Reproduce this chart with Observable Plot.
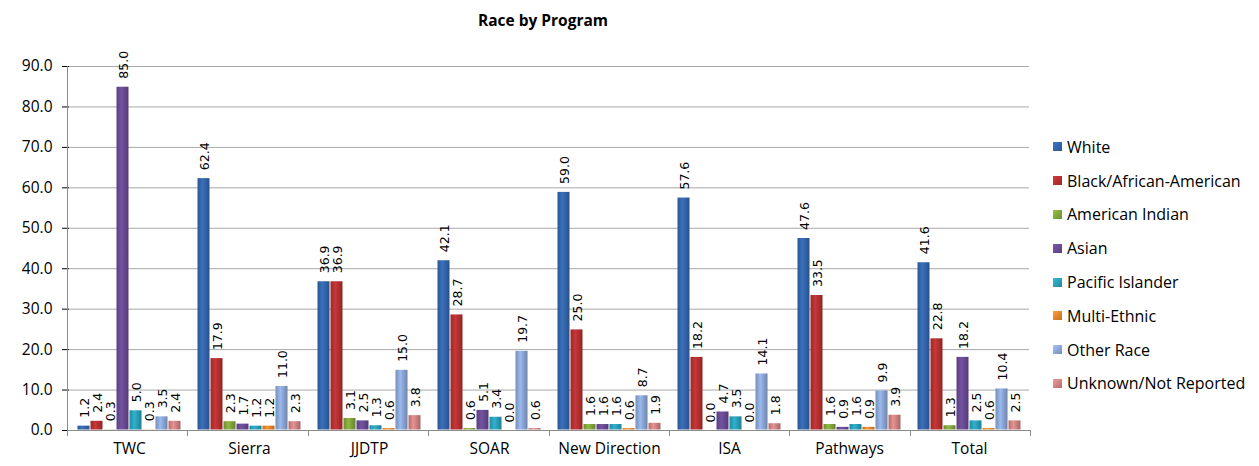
<!DOCTYPE html>
<html>
<head>
<meta charset="utf-8">
<script src="https://cdn.jsdelivr.net/npm/d3@7"></script>
<script src="https://cdn.jsdelivr.net/npm/@observablehq/plot@0.6"></script>
<style>
  html, body { margin: 0; padding: 0; background: #fff; }
  #wrap { position: relative; width: 1259px; height: 466px; font-family: "Open Sans", sans-serif; }
  #title { position: absolute; left: 0; top: 9px; width: 1086px; text-align: center; font-weight: bold; font-size: 15.5px; color: #000; }
  #chart { position: absolute; left: 0; top: 40px; }
  #legend { position: absolute; left: 1053px; top: 130px; font-size: 16px; color: #000; }
  .li { display: flex; align-items: center; height: 33.8px; white-space: nowrap; }
  .sw { width: 9px; height: 9px; margin-right: 5px; }
</style>
</head>
<body>
<div id="wrap">
  <div id="title">Race by Program</div>
  <div id="chart"></div>
  <div id="legend"></div>
</div>
<script>
const programs = ["TWC", "Sierra", "JJDTP", "SOAR", "New Direction", "ISA", "Pathways", "Total"];
const races = ["White", "Black/African-American", "American Indian", "Asian", "Pacific Islander", "Multi-Ethnic", "Other Race", "Unknown/Not Reported"];
const colors = ["#3467ad", "#b93131", "#83a83c", "#6b4c96", "#2ba3bd", "#e8882c", "#8eaadb", "#d48585"];

const white    = [1.2, 62.4, 36.9, 42.1, 59.0, 57.6, 47.6, 41.6];
const black    = [2.4, 17.9, 36.9, 28.7, 25.0, 18.2, 33.5, 22.8];
const amIndian = [0.3, 2.3, 3.1, 0.6, 1.6, 0.0, 1.6, 1.3];
const asian    = [85.0, 1.7, 2.5, 5.1, 1.6, 4.7, 0.9, 18.2];
const pacific  = [5.0, 1.2, 1.3, 3.4, 1.6, 3.5, 1.6, 2.5];
const multi    = [0.3, 1.2, 0.6, 0.0, 0.6, 0.0, 0.9, 0.6];
const other    = [3.5, 11.0, 15.0, 19.7, 8.7, 14.1, 9.9, 10.4];
const unknown  = [2.4, 2.3, 3.8, 0.6, 1.9, 1.8, 3.9, 2.5];
const yTicks = [0, 10, 20, 30, 40, 50, 60, 70, 80, 90];

const series = [white, black, amIndian, asian, pacific, multi, other, unknown];
const data = [];
programs.forEach((p, i) => races.forEach((r, j) => data.push({program: p, race: r, value: series[j][i]})));

const plot = Plot.plot({
  width: 1259,
  height: 426,
  marginTop: 26,
  marginBottom: 36,
  marginLeft: 67,
  marginRight: 229,
  style: {fontFamily: "'Open Sans', sans-serif", fontSize: "15.5px", color: "#000", background: "#fff"},
  fx: {domain: programs, padding: 0, label: null, axis: "bottom", tickSize: 0, tickPadding: 12},
  x: {domain: races, axis: null, paddingInner: 0, paddingOuter: 0.55},
  y: {domain: [0, 90], ticks: yTicks, tickFormat: d3.format(".1f"), label: null, tickSize: 7, tickPadding: 10},
  color: {domain: races, range: colors},
  marks: [
    Plot.ruleY(yTicks, {stroke: "#a8a8a8", strokeWidth: 1}),
    Plot.barY(data, {fx: "program", x: "race", y: "value", fill: "race", inset: 0.5}),
    Plot.text(data, {fx: "program", x: "race", y: "value", text: d => d.value.toFixed(1), rotate: -90, textAnchor: "start", dy: -8, dx: 1, fontSize: 12.5, fontFamily: "DejaVu Sans", fill: "#000"})
  ]
});

// gradients for a 3D-ish bar look
const svg = d3.select(plot.tagName === "svg" ? plot : plot.querySelector("svg"));
const defs = svg.insert("defs", ":first-child");
const idOf = {};
colors.forEach((c, i) => {
  const g = defs.append("linearGradient").attr("id", "g" + i).attr("x1", 0).attr("x2", 1).attr("y1", 0).attr("y2", 0);
  g.append("stop").attr("offset", "0%").attr("stop-color", d3.color(c).darker(0.5).formatHex());
  g.append("stop").attr("offset", "40%").attr("stop-color", d3.color(c).brighter(0.25).formatHex());
  g.append("stop").attr("offset", "100%").attr("stop-color", d3.color(c).darker(0.7).formatHex());
  idOf[d3.color(c).formatHex()] = "url(#g" + i + ")";
});
svg.selectAll("rect").each(function() {
  const f = this.getAttribute("fill");
  if (f) { const k = d3.color(f); if (k && idOf[k.formatHex()]) this.setAttribute("fill", idOf[k.formatHex()]); }
});

// axis lines and category separators derived from the scales
const fx = plot.scale("fx"), y = plot.scale("y");
const fxs = d3.scaleBand().domain(fx.domain).range(fx.range).padding(0);
const y0 = y.apply(0), yTop = y.apply(90);
const left = fx.range[0], right = fx.range[1];
const ax = svg.append("g").attr("stroke", "#8c8c8c").attr("stroke-width", 1);
ax.append("line").attr("x1", left + 0.5).attr("x2", left + 0.5).attr("y1", yTop).attr("y2", y0 + 6);
ax.append("line").attr("x1", left).attr("x2", right).attr("y1", y0 + 0.5).attr("y2", y0 + 0.5);
programs.forEach((p, i) => {
  const xe = Math.round(fxs(p) + fxs.bandwidth()) + 0.5;
  ax.append("line").attr("x1", xe).attr("x2", xe).attr("y1", y0).attr("y2", y0 + 6);
});

document.getElementById("chart").appendChild(plot);

const legend = document.getElementById("legend");
races.forEach((r, i) => {
  const d = document.createElement("div");
  d.className = "li";
  const s = document.createElement("span");
  s.className = "sw";
  s.style.background = `linear-gradient(135deg, ${d3.color(colors[i]).brighter(0.4)}, ${d3.color(colors[i]).darker(0.5)})`;
  const t = document.createElement("span");
  t.textContent = r;
  d.appendChild(s); d.appendChild(t);
  legend.appendChild(d);
});
</script>
</body>
</html>
